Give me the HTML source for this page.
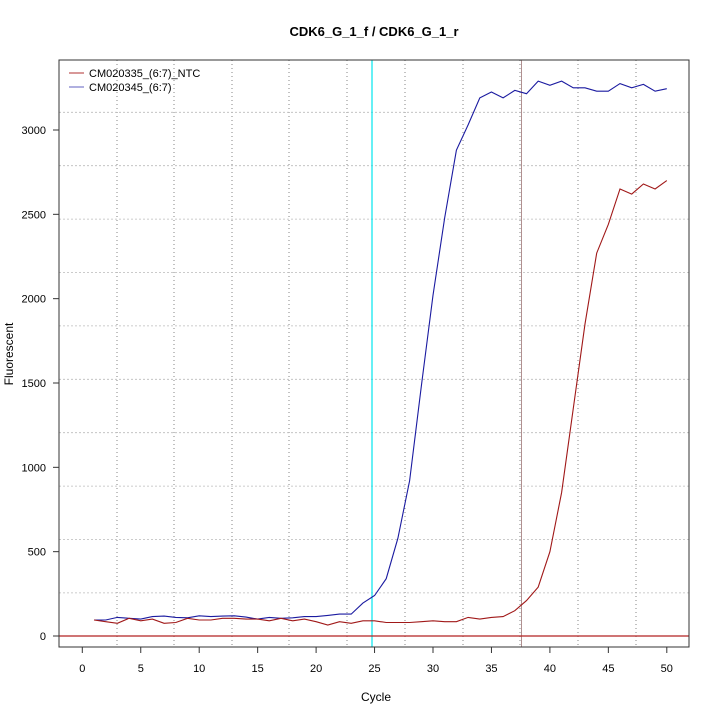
<!DOCTYPE html>
<html><head><meta charset="utf-8"><style>
html,body{margin:0;padding:0;background:#fff;}
svg{display:block;font-family:"Liberation Sans",sans-serif;}
</style></head><body>
<svg id="s" width="720" height="720" xmlns="http://www.w3.org/2000/svg">
<rect width="720" height="720" fill="#fff"/>
<text x="374" y="36" font-size="13" font-weight="bold" text-anchor="middle">CDK6_G_1_f / CDK6_G_1_r</text>
<g id="grid"></g>
<line x1="372" y1="60" x2="372" y2="647" stroke="#00e5ee" stroke-width="1.2"/>
<line x1="521.5" y1="60" x2="521.5" y2="647" stroke="#b09090" stroke-width="1"/>
<line x1="59" y1="636" x2="689" y2="636" stroke="#b22222" stroke-width="1.2"/>
<polyline id="blue" fill="none" stroke="#1a1aa0" stroke-width="1.1"/>
<polyline id="red" fill="none" stroke="#a01818" stroke-width="1.1"/>
<rect x="59" y="60" width="630" height="587" fill="none" stroke="#333" stroke-width="1"/>
<g id="ax" font-size="11" fill="#000"></g>
<text x="376" y="701" font-size="12" text-anchor="middle">Cycle</text>
<text transform="translate(13,354) rotate(-90)" font-size="12" text-anchor="middle">Fluorescent</text>
<line x1="69" y1="73" x2="84" y2="73" stroke="#b03030"/>
<line x1="69" y1="87" x2="84" y2="87" stroke="#6060c0"/>
<text x="89" y="77" font-size="11">CM020335_(6:7)_NTC</text>
<text x="89" y="91" font-size="11">CM020345_(6:7)</text>
</svg>
<script>
var ns="http://www.w3.org/2000/svg";
function el(p,t,a,txt){var e=document.createElementNS(ns,t);for(var k in a)e.setAttribute(k,a[k]);if(txt!==undefined)e.textContent=txt;p.appendChild(e);return e;}
var X=function(c){return 82.3+c*11.69;},Y=function(v){return 636-v*0.16867;};
var g=document.getElementById('grid'),ax=document.getElementById('ax');
[117,174,232,289,347,405,463,520,578,636].forEach(function(x){el(g,'line',{x1:x,y1:60,x2:x,y2:647,stroke:'#666','stroke-dasharray':'1,3','stroke-width':0.8});});
for(var k=0;k<10;k++){var y=112.3+k*53.4;el(g,'line',{x1:59,y1:y,x2:689,y2:y,stroke:'#bbb','stroke-dasharray':'2,2','stroke-width':0.8});}
for(var c=0;c<=50;c+=5){var x=X(c);el(ax,'line',{x1:x,y1:647,x2:x,y2:653,stroke:'#333'});el(ax,'text',{x:x,y:672,'text-anchor':'middle'},c);}
for(var v=0;v<=3000;v+=500){var y=Y(v);el(ax,'line',{x1:53,y1:y,x2:59,y2:y,stroke:'#333'});el(ax,'text',{x:46,y:y+4,'text-anchor':'end'},v);}
var b=[95,95,110,105,100,115,118,110,108,120,115,118,120,112,100,110,105,108,115,115,122,130,130,195,240,340,580,920,1480,2020,2480,2880,3030,3190,3225,3190,3235,3215,3290,3265,3290,3250,3250,3230,3230,3275,3250,3270,3230,3245];
var r=[95,85,75,105,90,100,75,80,105,95,95,105,105,100,100,90,105,90,100,85,65,85,75,90,90,80,80,80,85,90,85,85,110,100,110,115,150,210,290,500,850,1350,1850,2270,2440,2650,2620,2680,2650,2700];
function pts(a){return a.map(function(v,i){return X(i+1).toFixed(1)+','+Y(v).toFixed(1);}).join(' ');}
document.getElementById('blue').setAttribute('points',pts(b));
document.getElementById('red').setAttribute('points',pts(r));
</script>
</body></html>
